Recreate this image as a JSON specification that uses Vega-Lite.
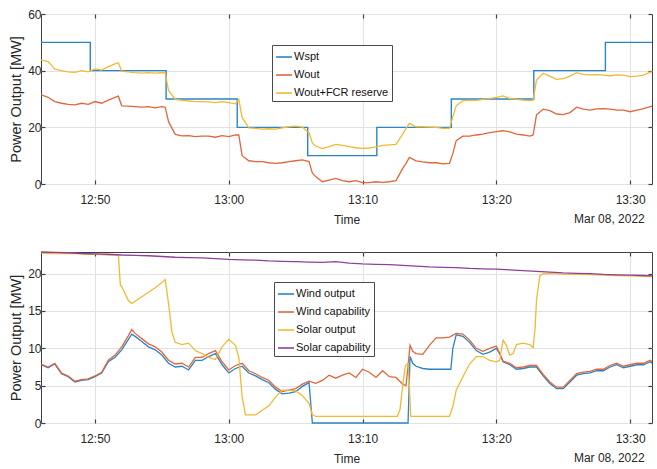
{
  "background": "white",
  "padding": {"left": 8, "top": 7, "right": 1, "bottom": 0},
  "spacing": 22,
  "datasets": {
    "dsa": [
      {"t": "2022-03-08T12:45:58", "wspt": 50},
      {"t": "2022-03-08T12:49:39", "wspt": 40},
      {"t": "2022-03-08T12:55:19", "wspt": 30},
      {"t": "2022-03-08T13:00:38", "wspt": 20},
      {"t": "2022-03-08T13:05:54", "wspt": 10},
      {"t": "2022-03-08T13:11:04", "wspt": 20},
      {"t": "2022-03-08T13:16:38", "wspt": 30},
      {"t": "2022-03-08T13:22:48", "wspt": 40},
      {"t": "2022-03-08T13:28:09", "wspt": 50},
      {"t": "2022-03-08T13:31:38", "wspt": 50}
    ],
    "dsb": [
      {"t": "2022-03-08T12:45:58", "wout": 31.5, "wfcr": 43.8},
      {"t": "2022-03-08T12:46:30", "wout": 30.6, "wfcr": 43.2},
      {"t": "2022-03-08T12:47:00", "wout": 29.1, "wfcr": 40.5},
      {"t": "2022-03-08T12:47:30", "wout": 28.5, "wfcr": 40.0},
      {"t": "2022-03-08T12:48:00", "wout": 28.1, "wfcr": 39.6},
      {"t": "2022-03-08T12:48:30", "wout": 27.9, "wfcr": 39.4},
      {"t": "2022-03-08T12:49:00", "wout": 28.5, "wfcr": 40.0},
      {"t": "2022-03-08T12:49:30", "wout": 28.1, "wfcr": 39.6},
      {"t": "2022-03-08T12:50:00", "wout": 29.1, "wfcr": 40.6},
      {"t": "2022-03-08T12:50:30", "wout": 28.5, "wfcr": 40.2},
      {"t": "2022-03-08T12:51:00", "wout": 29.6, "wfcr": 41.4},
      {"t": "2022-03-08T12:51:30", "wout": 30.6, "wfcr": 42.4},
      {"t": "2022-03-08T12:51:45", "wout": 31.0, "wfcr": 42.8},
      {"t": "2022-03-08T12:52:00", "wout": 27.6, "wfcr": 39.8},
      {"t": "2022-03-08T12:52:30", "wout": 27.5, "wfcr": 39.6},
      {"t": "2022-03-08T12:53:00", "wout": 27.3, "wfcr": 39.3},
      {"t": "2022-03-08T12:53:30", "wout": 27.1, "wfcr": 39.1},
      {"t": "2022-03-08T12:54:00", "wout": 27.3, "wfcr": 39.3},
      {"t": "2022-03-08T12:54:30", "wout": 26.9, "wfcr": 39.1},
      {"t": "2022-03-08T12:55:00", "wout": 27.3, "wfcr": 39.3},
      {"t": "2022-03-08T12:55:15", "wout": 27.1, "wfcr": 39.2},
      {"t": "2022-03-08T12:55:30", "wout": 22.0, "wfcr": 33.0},
      {"t": "2022-03-08T12:56:00", "wout": 17.5, "wfcr": 29.9},
      {"t": "2022-03-08T12:56:30", "wout": 17.0, "wfcr": 29.5},
      {"t": "2022-03-08T12:57:00", "wout": 17.1, "wfcr": 29.3},
      {"t": "2022-03-08T12:57:30", "wout": 16.7, "wfcr": 29.1},
      {"t": "2022-03-08T12:58:00", "wout": 16.9, "wfcr": 29.1},
      {"t": "2022-03-08T12:58:30", "wout": 16.9, "wfcr": 29.0},
      {"t": "2022-03-08T12:59:00", "wout": 16.5, "wfcr": 28.7},
      {"t": "2022-03-08T12:59:30", "wout": 17.1, "wfcr": 29.1},
      {"t": "2022-03-08T13:00:00", "wout": 16.7, "wfcr": 28.7},
      {"t": "2022-03-08T13:00:30", "wout": 17.3, "wfcr": 28.3},
      {"t": "2022-03-08T13:00:45", "wout": 17.3, "wfcr": 29.9},
      {"t": "2022-03-08T13:01:00", "wout": 10.0, "wfcr": 23.5},
      {"t": "2022-03-08T13:01:30", "wout": 8.2, "wfcr": 19.8},
      {"t": "2022-03-08T13:02:00", "wout": 7.9, "wfcr": 19.6},
      {"t": "2022-03-08T13:02:30", "wout": 7.9, "wfcr": 19.4},
      {"t": "2022-03-08T13:03:00", "wout": 7.5, "wfcr": 19.5},
      {"t": "2022-03-08T13:03:30", "wout": 7.3, "wfcr": 19.4},
      {"t": "2022-03-08T13:04:00", "wout": 7.5, "wfcr": 19.8},
      {"t": "2022-03-08T13:04:30", "wout": 7.9, "wfcr": 20.2},
      {"t": "2022-03-08T13:05:00", "wout": 8.2, "wfcr": 20.4},
      {"t": "2022-03-08T13:05:30", "wout": 8.5, "wfcr": 20.1},
      {"t": "2022-03-08T13:06:00", "wout": 7.9, "wfcr": 18.1},
      {"t": "2022-03-08T13:06:15", "wout": 3.8, "wfcr": 14.4},
      {"t": "2022-03-08T13:06:30", "wout": 2.6, "wfcr": 13.4},
      {"t": "2022-03-08T13:07:00", "wout": 0.8, "wfcr": 12.5},
      {"t": "2022-03-08T13:07:30", "wout": 1.4, "wfcr": 13.2},
      {"t": "2022-03-08T13:08:00", "wout": 2.0, "wfcr": 14.0},
      {"t": "2022-03-08T13:08:30", "wout": 1.2, "wfcr": 13.6},
      {"t": "2022-03-08T13:09:00", "wout": 0.8, "wfcr": 13.2},
      {"t": "2022-03-08T13:09:30", "wout": 1.2, "wfcr": 12.8},
      {"t": "2022-03-08T13:10:00", "wout": 0.5, "wfcr": 12.6},
      {"t": "2022-03-08T13:10:30", "wout": 0.5, "wfcr": 12.7},
      {"t": "2022-03-08T13:11:00", "wout": 0.8, "wfcr": 13.1},
      {"t": "2022-03-08T13:11:30", "wout": 0.6, "wfcr": 13.6},
      {"t": "2022-03-08T13:12:00", "wout": 0.8, "wfcr": 13.8},
      {"t": "2022-03-08T13:12:30", "wout": 1.2, "wfcr": 14.0},
      {"t": "2022-03-08T13:13:00", "wout": 5.5, "wfcr": 17.6},
      {"t": "2022-03-08T13:13:15", "wout": 7.3, "wfcr": 19.6},
      {"t": "2022-03-08T13:13:30", "wout": 9.4, "wfcr": 21.4},
      {"t": "2022-03-08T13:14:00", "wout": 8.2, "wfcr": 20.2},
      {"t": "2022-03-08T13:14:30", "wout": 7.8, "wfcr": 20.2},
      {"t": "2022-03-08T13:15:00", "wout": 7.5, "wfcr": 20.1},
      {"t": "2022-03-08T13:15:30", "wout": 7.5, "wfcr": 20.0},
      {"t": "2022-03-08T13:16:00", "wout": 7.1, "wfcr": 19.6},
      {"t": "2022-03-08T13:16:30", "wout": 7.3, "wfcr": 19.6},
      {"t": "2022-03-08T13:16:45", "wout": 10.8, "wfcr": 23.8},
      {"t": "2022-03-08T13:17:00", "wout": 15.3, "wfcr": 27.6},
      {"t": "2022-03-08T13:17:30", "wout": 16.9, "wfcr": 29.4},
      {"t": "2022-03-08T13:18:00", "wout": 16.9, "wfcr": 29.5},
      {"t": "2022-03-08T13:18:30", "wout": 17.3, "wfcr": 29.5},
      {"t": "2022-03-08T13:19:00", "wout": 17.6, "wfcr": 29.9},
      {"t": "2022-03-08T13:19:30", "wout": 18.1, "wfcr": 30.1},
      {"t": "2022-03-08T13:20:00", "wout": 18.5, "wfcr": 30.6},
      {"t": "2022-03-08T13:20:30", "wout": 18.8, "wfcr": 31.1},
      {"t": "2022-03-08T13:21:00", "wout": 18.4, "wfcr": 30.2},
      {"t": "2022-03-08T13:21:30", "wout": 17.6, "wfcr": 29.9},
      {"t": "2022-03-08T13:22:00", "wout": 17.3, "wfcr": 29.6},
      {"t": "2022-03-08T13:22:30", "wout": 16.9, "wfcr": 29.4},
      {"t": "2022-03-08T13:22:45", "wout": 17.3, "wfcr": 29.6},
      {"t": "2022-03-08T13:23:00", "wout": 24.4, "wfcr": 36.7},
      {"t": "2022-03-08T13:23:30", "wout": 26.4, "wfcr": 39.1},
      {"t": "2022-03-08T13:24:00", "wout": 25.9, "wfcr": 38.1},
      {"t": "2022-03-08T13:24:30", "wout": 24.7, "wfcr": 36.9},
      {"t": "2022-03-08T13:25:00", "wout": 24.5, "wfcr": 37.2},
      {"t": "2022-03-08T13:25:30", "wout": 25.2, "wfcr": 38.1},
      {"t": "2022-03-08T13:26:00", "wout": 27.1, "wfcr": 39.3},
      {"t": "2022-03-08T13:26:30", "wout": 26.4, "wfcr": 38.7},
      {"t": "2022-03-08T13:27:00", "wout": 26.1, "wfcr": 38.5},
      {"t": "2022-03-08T13:27:30", "wout": 26.5, "wfcr": 38.6},
      {"t": "2022-03-08T13:28:00", "wout": 26.6, "wfcr": 38.4},
      {"t": "2022-03-08T13:28:30", "wout": 26.4, "wfcr": 38.2},
      {"t": "2022-03-08T13:29:00", "wout": 26.1, "wfcr": 38.5},
      {"t": "2022-03-08T13:29:30", "wout": 26.1, "wfcr": 38.4},
      {"t": "2022-03-08T13:30:00", "wout": 25.5, "wfcr": 37.9},
      {"t": "2022-03-08T13:30:30", "wout": 26.1, "wfcr": 38.1},
      {"t": "2022-03-08T13:31:00", "wout": 26.6, "wfcr": 38.4},
      {"t": "2022-03-08T13:31:30", "wout": 27.3, "wfcr": 39.5},
      {"t": "2022-03-08T13:31:38", "wout": 27.5, "wfcr": 39.6}
    ],
    "dsc": [
      {"t": "2022-03-08T12:45:58", "wo": 7.8, "wc": 7.9, "so": 22.8, "sc": 22.9},
      {"t": "2022-03-08T12:46:30", "wo": 7.4, "wc": 7.5, "so": 22.7},
      {"t": "2022-03-08T12:47:00", "wo": 7.9, "wc": 8.0, "so": 22.7, "sc": 22.85},
      {"t": "2022-03-08T12:47:30", "wo": 6.6, "wc": 6.7, "so": 22.7},
      {"t": "2022-03-08T12:48:00", "wo": 6.2, "wc": 6.3, "so": 22.7, "sc": 22.8},
      {"t": "2022-03-08T12:48:30", "wo": 5.5, "wc": 5.6, "so": 22.7},
      {"t": "2022-03-08T12:49:00", "wo": 5.7, "wc": 5.8, "so": 22.65, "sc": 22.7},
      {"t": "2022-03-08T12:49:30", "wo": 5.8, "wc": 5.9, "so": 22.6},
      {"t": "2022-03-08T12:50:00", "wo": 6.2, "wc": 6.3, "so": 22.6, "sc": 22.65},
      {"t": "2022-03-08T12:50:30", "wo": 6.7, "wc": 6.8, "so": 22.55},
      {"t": "2022-03-08T12:51:00", "wo": 8.2, "wc": 8.4, "so": 22.5, "sc": 22.6},
      {"t": "2022-03-08T12:51:30", "wo": 8.8, "wc": 9.1, "so": 22.5},
      {"t": "2022-03-08T12:51:45", "so": 22.5},
      {"t": "2022-03-08T12:51:54", "so": 18.4},
      {"t": "2022-03-08T12:52:00", "wo": 9.8, "wc": 10.2, "so": 18.3, "sc": 22.5},
      {"t": "2022-03-08T12:52:30", "wo": 11.2, "wc": 11.7, "so": 16.4},
      {"t": "2022-03-08T12:52:45", "wo": 11.9, "wc": 12.5, "so": 16.0},
      {"t": "2022-03-08T12:53:00", "wo": 11.6, "wc": 12.0, "so": 16.3, "sc": 22.45},
      {"t": "2022-03-08T12:53:30", "wo": 10.9, "wc": 11.3, "so": 16.9},
      {"t": "2022-03-08T12:54:00", "wo": 10.2, "wc": 10.6, "so": 17.5, "sc": 22.4},
      {"t": "2022-03-08T12:54:30", "wo": 9.8, "wc": 10.2, "so": 18.1},
      {"t": "2022-03-08T12:55:00", "wo": 9.1, "wc": 9.5, "so": 18.8, "sc": 22.3},
      {"t": "2022-03-08T12:55:15", "so": 19.2},
      {"t": "2022-03-08T12:55:30", "wo": 8.0, "wc": 8.4, "so": 16.0},
      {"t": "2022-03-08T12:55:45", "so": 12.2},
      {"t": "2022-03-08T12:56:00", "wo": 7.5, "wc": 7.9, "so": 10.8, "sc": 22.2},
      {"t": "2022-03-08T12:56:30", "wo": 7.6, "wc": 8.0, "so": 10.5},
      {"t": "2022-03-08T12:57:00", "wo": 7.1, "wc": 7.5, "so": 10.7, "sc": 22.15},
      {"t": "2022-03-08T12:57:30", "wo": 8.4, "wc": 8.8, "so": 9.7},
      {"t": "2022-03-08T12:58:00", "wo": 8.4, "wc": 8.8, "so": 9.3, "sc": 22.1},
      {"t": "2022-03-08T12:58:30", "wo": 8.9, "wc": 9.3, "so": 8.8},
      {"t": "2022-03-08T12:59:00", "wo": 9.3, "wc": 9.7, "so": 8.5, "sc": 22.0},
      {"t": "2022-03-08T12:59:30", "wo": 7.8, "wc": 8.2, "so": 10.2},
      {"t": "2022-03-08T13:00:00", "wo": 6.7, "wc": 7.1, "so": 11.2, "sc": 21.9},
      {"t": "2022-03-08T13:00:30", "wo": 7.3, "wc": 7.7, "so": 10.4},
      {"t": "2022-03-08T13:00:45", "so": 8.8},
      {"t": "2022-03-08T13:01:00", "wo": 7.6, "wc": 8.0, "so": 3.5, "sc": 21.85},
      {"t": "2022-03-08T13:01:15", "so": 1.1},
      {"t": "2022-03-08T13:01:30", "wo": 6.7, "wc": 7.0, "so": 1.1},
      {"t": "2022-03-08T13:02:00", "wo": 6.3, "wc": 6.6, "so": 1.1, "sc": 21.8},
      {"t": "2022-03-08T13:02:30", "wo": 5.8, "wc": 6.1, "so": 1.7},
      {"t": "2022-03-08T13:03:00", "wo": 5.4, "wc": 5.7, "so": 2.3, "sc": 21.7},
      {"t": "2022-03-08T13:03:30", "wo": 4.5, "wc": 4.8, "so": 3.5},
      {"t": "2022-03-08T13:04:00", "wo": 3.9, "wc": 4.2, "so": 4.4, "sc": 21.65},
      {"t": "2022-03-08T13:04:30", "wo": 4.0, "wc": 4.4, "so": 4.4},
      {"t": "2022-03-08T13:05:00", "wo": 4.2, "wc": 4.6, "so": 4.3, "sc": 21.6},
      {"t": "2022-03-08T13:05:30", "wo": 4.9, "wc": 5.2, "so": 3.7},
      {"t": "2022-03-08T13:06:00", "wo": 5.4, "wc": 5.6, "so": 2.6, "sc": 21.55},
      {"t": "2022-03-08T13:06:15", "wo": 0, "so": 1.1},
      {"t": "2022-03-08T13:06:30", "wo": 0, "wc": 5.3, "so": 0.9},
      {"t": "2022-03-08T13:07:00", "wo": 0, "wc": 5.7, "so": 0.9, "sc": 21.5},
      {"t": "2022-03-08T13:07:30", "wo": 0, "wc": 6.4, "so": 0.9},
      {"t": "2022-03-08T13:08:00", "wo": 0, "wc": 6.0, "so": 0.9, "sc": 21.6},
      {"t": "2022-03-08T13:08:30", "wo": 0, "wc": 6.4, "so": 0.9},
      {"t": "2022-03-08T13:09:00", "wo": 0, "wc": 6.7, "so": 0.9, "sc": 21.4},
      {"t": "2022-03-08T13:09:30", "wo": 0, "wc": 6.1, "so": 0.9},
      {"t": "2022-03-08T13:10:00", "wo": 0, "wc": 7.2, "so": 0.9, "sc": 21.3},
      {"t": "2022-03-08T13:10:30", "wo": 0, "wc": 6.8, "so": 0.9},
      {"t": "2022-03-08T13:11:00", "wo": 0, "wc": 6.1, "so": 0.9, "sc": 21.25},
      {"t": "2022-03-08T13:11:30", "wo": 0, "wc": 7.0, "so": 0.9},
      {"t": "2022-03-08T13:12:00", "wo": 0, "wc": 6.2, "so": 0.9, "sc": 21.2},
      {"t": "2022-03-08T13:12:30", "wo": 0, "wc": 6.1, "so": 0.9},
      {"t": "2022-03-08T13:12:36", "so": 0.9},
      {"t": "2022-03-08T13:12:48", "so": 1.8},
      {"t": "2022-03-08T13:13:00", "wo": 0, "wc": 5.2, "so": 5.0, "sc": 21.1},
      {"t": "2022-03-08T13:13:12", "so": 7.7},
      {"t": "2022-03-08T13:13:15", "wc": 5.0},
      {"t": "2022-03-08T13:13:24", "wo": 0, "so": 8.0},
      {"t": "2022-03-08T13:13:30", "so": 5.0},
      {"t": "2022-03-08T13:13:33", "wo": 8.9, "wc": 10.4},
      {"t": "2022-03-08T13:13:36", "so": 0.9},
      {"t": "2022-03-08T13:13:45", "wo": 8.0, "wc": 9.6},
      {"t": "2022-03-08T13:14:00", "wo": 7.6, "wc": 9.3, "so": 0.9, "sc": 21.0},
      {"t": "2022-03-08T13:14:30", "wo": 7.3, "wc": 9.2, "so": 0.9},
      {"t": "2022-03-08T13:15:00", "wo": 7.2, "wc": 10.4, "so": 0.9, "sc": 20.9},
      {"t": "2022-03-08T13:15:30", "wo": 7.2, "wc": 11.4, "so": 0.9},
      {"t": "2022-03-08T13:16:00", "wo": 7.2, "wc": 11.4, "so": 0.9, "sc": 20.85},
      {"t": "2022-03-08T13:16:30", "wo": 7.2, "wc": 11.5, "so": 0.9},
      {"t": "2022-03-08T13:16:36", "wo": 7.2},
      {"t": "2022-03-08T13:16:45", "wo": 10.0, "so": 2.2},
      {"t": "2022-03-08T13:17:00", "wo": 11.8, "wc": 12.0, "so": 4.4, "sc": 20.8},
      {"t": "2022-03-08T13:17:30", "wo": 11.6, "wc": 11.9, "so": 6.2},
      {"t": "2022-03-08T13:18:00", "wo": 10.8, "wc": 11.1, "so": 7.9, "sc": 20.7},
      {"t": "2022-03-08T13:18:30", "wo": 9.7, "wc": 10.0, "so": 8.9},
      {"t": "2022-03-08T13:19:00", "wo": 9.2, "wc": 9.6, "so": 8.9, "sc": 20.65},
      {"t": "2022-03-08T13:19:30", "wo": 9.5, "wc": 10.0, "so": 8.4},
      {"t": "2022-03-08T13:20:00", "wo": 10.0, "wc": 10.3, "so": 8.2, "sc": 20.6},
      {"t": "2022-03-08T13:20:15", "wo": 9.3, "so": 8.4},
      {"t": "2022-03-08T13:20:30", "wo": 8.2, "wc": 8.3, "so": 11.1},
      {"t": "2022-03-08T13:20:45", "so": 10.4},
      {"t": "2022-03-08T13:21:00", "wo": 7.8, "wc": 8.0, "so": 9.1, "sc": 20.5},
      {"t": "2022-03-08T13:21:15", "so": 9.3},
      {"t": "2022-03-08T13:21:30", "wo": 7.2, "wc": 7.4, "so": 10.5},
      {"t": "2022-03-08T13:22:00", "wo": 7.3, "wc": 7.5, "so": 10.7, "sc": 20.4},
      {"t": "2022-03-08T13:22:30", "wo": 7.5, "wc": 7.7, "so": 10.5},
      {"t": "2022-03-08T13:22:45", "so": 10.1},
      {"t": "2022-03-08T13:22:54", "so": 12.8},
      {"t": "2022-03-08T13:23:00", "wo": 7.5, "wc": 7.7, "so": 16.4, "sc": 20.3},
      {"t": "2022-03-08T13:23:15", "so": 19.7},
      {"t": "2022-03-08T13:23:30", "wo": 6.3, "wc": 6.5, "so": 20.0},
      {"t": "2022-03-08T13:24:00", "wo": 5.3, "wc": 5.5, "so": 20.0, "sc": 20.2},
      {"t": "2022-03-08T13:24:30", "wo": 4.6, "wc": 4.8},
      {"t": "2022-03-08T13:25:00", "wo": 4.6, "wc": 4.8, "so": 19.95, "sc": 20.1},
      {"t": "2022-03-08T13:25:30", "wo": 5.5, "wc": 5.7},
      {"t": "2022-03-08T13:26:00", "wo": 6.4, "wc": 6.6, "so": 19.9, "sc": 20.05},
      {"t": "2022-03-08T13:26:30", "wo": 6.6, "wc": 6.8},
      {"t": "2022-03-08T13:27:00", "wo": 6.7, "wc": 6.9, "so": 19.87, "sc": 20.0},
      {"t": "2022-03-08T13:27:30", "wo": 7.0, "wc": 7.2},
      {"t": "2022-03-08T13:28:00", "wo": 7.0, "wc": 7.2, "so": 19.8, "sc": 19.9},
      {"t": "2022-03-08T13:28:30", "wo": 7.5, "wc": 7.7},
      {"t": "2022-03-08T13:29:00", "wo": 7.8, "wc": 8.0, "so": 19.75, "sc": 19.85},
      {"t": "2022-03-08T13:29:30", "wo": 7.4, "wc": 7.6},
      {"t": "2022-03-08T13:30:00", "wo": 7.6, "wc": 7.8, "so": 19.7, "sc": 19.8},
      {"t": "2022-03-08T13:30:30", "wo": 7.8, "wc": 8.0},
      {"t": "2022-03-08T13:31:00", "wo": 7.8, "wc": 8.0, "so": 19.65, "sc": 19.75},
      {"t": "2022-03-08T13:31:30", "wo": 8.2, "wc": 8.4},
      {"t": "2022-03-08T13:31:38", "wo": 8.0, "wc": 8.2, "so": 19.6, "sc": 19.7}
    ]
  },
  "vconcat": [
    {
      "width": 611,
      "height": 170,
      "title": {"text": "Mar 08, 2022", "orient": "bottom", "anchor": "end", "offset": -11, "dx": -10, "fontSize": 12, "fontWeight": "normal", "color": "#262626"},
      "resolve": {"axis": {"x": "independent", "y": "independent"}},
      "layer": [
        {
          "data": {"name": "dsa"},
          "transform": [{"fold": ["wspt"], "as": ["s", "v"]}],
          "mark": {"type": "line", "interpolate": "step-after", "strokeWidth": 1.4},
          "encoding": {
            "x": {"field": "t", "type": "temporal", "scale": {"nice": false},
                  "axis": {"title": "Time", "format": "%H:%M",
                           "values": [{"year": 2022, "month": 3, "date": 8, "hours": 12, "minutes": 50}, {"year": 2022, "month": 3, "date": 8, "hours": 13, "minutes": 0}, {"year": 2022, "month": 3, "date": 8, "hours": 13, "minutes": 10}, {"year": 2022, "month": 3, "date": 8, "hours": 13, "minutes": 20}, {"year": 2022, "month": 3, "date": 8, "hours": 13, "minutes": 30}]}},
            "y": {"field": "v", "type": "quantitative",
                  "scale": {"domain": [0, 60], "nice": false},
                  "axis": {"title": "Power Output [MW]", "values": [0, 20, 40, 60]}},
            "color": {"field": "s", "type": "nominal",
                      "scale": {"domain": ["wspt", "wout", "wfcr"], "range": ["#2b84c6", "#e0663c", "#f0ba34"]},
                      "legend": {"orient": "none", "legendX": 231, "legendY": 31, "title": null,
                                 "labelExpr": "datum.value == 'wspt' ? 'Wspt' : datum.value == 'wout' ? 'Wout' : 'Wout+FCR reserve'"}}
          }
        },
        {
          "data": {"name": "dsb"},
          "transform": [{"fold": ["wout", "wfcr"], "as": ["s", "v"]}],
          "mark": {"type": "line", "strokeWidth": 1.3},
          "encoding": {
            "x": {"field": "t", "type": "temporal",
                  "axis": {"orient": "top", "title": null, "labels": false, "grid": false,
                           "values": [{"year": 2022, "month": 3, "date": 8, "hours": 12, "minutes": 50}, {"year": 2022, "month": 3, "date": 8, "hours": 13, "minutes": 0}, {"year": 2022, "month": 3, "date": 8, "hours": 13, "minutes": 10}, {"year": 2022, "month": 3, "date": 8, "hours": 13, "minutes": 20}, {"year": 2022, "month": 3, "date": 8, "hours": 13, "minutes": 30}]}},
            "y": {"field": "v", "type": "quantitative",
                  "axis": {"orient": "right", "title": null, "labels": false, "grid": false, "values": [0, 20, 40, 60]}},
            "color": {"field": "s", "type": "nominal",
                      "legend": {"orient": "none", "legendX": 231, "legendY": 31, "title": null,
                                 "labelExpr": "datum.value == 'wspt' ? 'Wspt' : datum.value == 'wout' ? 'Wout' : 'Wout+FCR reserve'"}}
          }
        }
      ]
    },
    {
      "width": 611,
      "height": 171,
      "title": {"text": "Mar 08, 2022", "orient": "bottom", "anchor": "end", "offset": -11, "dx": -10, "fontSize": 12, "fontWeight": "normal", "color": "#262626"},
      "data": {"name": "dsc"},
      "resolve": {"axis": {"x": "independent", "y": "independent"}},
      "layer": [
        {
          "transform": [{"fold": ["wo", "wc"], "as": ["s", "v"]}, {"filter": "datum.v != null"}],
          "mark": {"type": "line", "strokeWidth": 1.3},
          "encoding": {
            "x": {"field": "t", "type": "temporal", "scale": {"nice": false},
                  "axis": {"title": "Time", "format": "%H:%M",
                           "values": [{"year": 2022, "month": 3, "date": 8, "hours": 12, "minutes": 50}, {"year": 2022, "month": 3, "date": 8, "hours": 13, "minutes": 0}, {"year": 2022, "month": 3, "date": 8, "hours": 13, "minutes": 10}, {"year": 2022, "month": 3, "date": 8, "hours": 13, "minutes": 20}, {"year": 2022, "month": 3, "date": 8, "hours": 13, "minutes": 30}]}},
            "y": {"field": "v", "type": "quantitative",
                  "scale": {"domain": [0, 22.9], "nice": false},
                  "axis": {"title": "Power Output [MW]", "values": [0, 5, 10, 15, 20]}},
            "color": {"field": "s", "type": "nominal",
                      "scale": {"domain": ["wo", "wc", "so", "sc"], "range": ["#2b84c6", "#e0663c", "#f0ba34", "#8e3f9e"]},
                      "legend": {"orient": "none", "legendX": 233, "legendY": 30, "title": null,
                                 "labelExpr": "datum.value == 'wo' ? 'Wind output' : datum.value == 'wc' ? 'Wind capability' : datum.value == 'so' ? 'Solar output' : 'Solar capability'"}}
          }
        },
        {
          "transform": [{"fold": ["so", "sc"], "as": ["s", "v"]}, {"filter": "datum.v != null"}],
          "mark": {"type": "line", "strokeWidth": 1.3},
          "encoding": {
            "x": {"field": "t", "type": "temporal",
                  "axis": {"orient": "top", "title": null, "labels": false, "grid": false,
                           "values": [{"year": 2022, "month": 3, "date": 8, "hours": 12, "minutes": 50}, {"year": 2022, "month": 3, "date": 8, "hours": 13, "minutes": 0}, {"year": 2022, "month": 3, "date": 8, "hours": 13, "minutes": 10}, {"year": 2022, "month": 3, "date": 8, "hours": 13, "minutes": 20}, {"year": 2022, "month": 3, "date": 8, "hours": 13, "minutes": 30}]}},
            "y": {"field": "v", "type": "quantitative",
                  "axis": {"orient": "right", "title": null, "labels": false, "grid": false, "values": [0, 5, 10, 15, 20]}},
            "color": {"field": "s", "type": "nominal",
                      "legend": {"orient": "none", "legendX": 233, "legendY": 30, "title": null,
                                 "labelExpr": "datum.value == 'wo' ? 'Wind output' : datum.value == 'wc' ? 'Wind capability' : datum.value == 'so' ? 'Solar output' : 'Solar capability'"}}
          }
        }
      ]
    }
  ],
  "resolve": {"scale": {"color": "independent"}, "legend": {"color": "independent"}},
  "config": {
    "font": "Liberation Sans",
    "view": {"stroke": "#404040", "strokeWidth": 1},
    "axis": {
      "labelFontSize": 12,
      "labelColor": "#262626",
      "titleFontSize": 12,
      "titleFontWeight": "normal",
      "titleColor": "#262626",
      "gridColor": "#e2e2e2",
      "domain": false,
      "tickColor": "#404040",
      "tickSize": -4,
      "tickWidth": 1.2
    },
    "axisX": {"labelPadding": 14, "titlePadding": 9},
    "axisY": {"labelPadding": 4, "titlePadding": 4, "titleFontSize": 14.5},
    "legend": {
      "symbolType": "stroke",
      "symbolSize": 256,
      "symbolStrokeWidth": 1.6,
      "labelFontSize": 11,
      "labelColor": "#111111",
      "labelOffset": 1,
      "labelLimit": 300,
      "rowPadding": 4,
      "padding": 3,
      "strokeColor": "#4a4a4a",
      "fillColor": "white"
    }
  }
}
